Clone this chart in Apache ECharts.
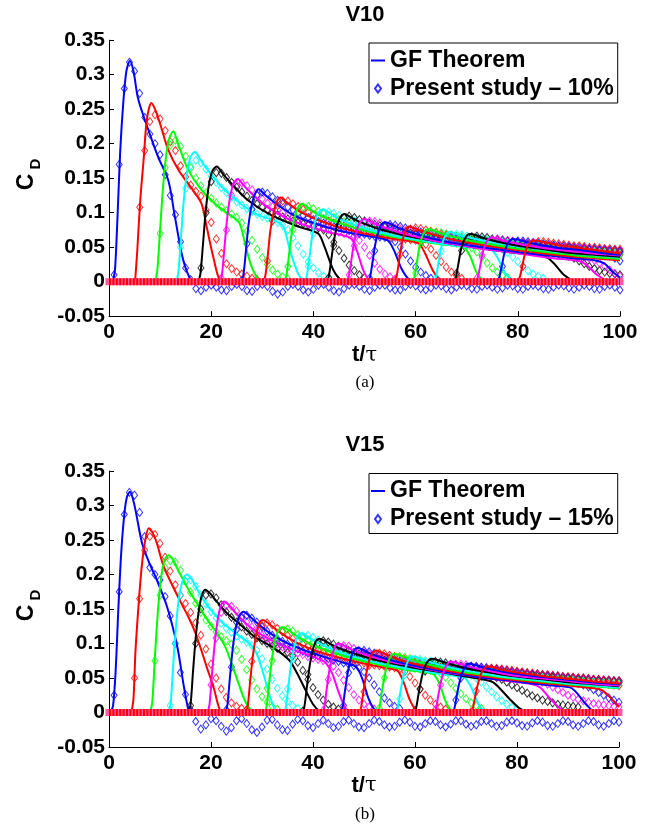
<!DOCTYPE html>
<html><head><meta charset="utf-8">
<script src="https://cdn.jsdelivr.net/npm/echarts@6.0.0/dist/echarts.min.js"></script>
<style>html,body{margin:0;padding:0;background:#fff}#chart{width:667px;height:836px}</style>
</head><body><div id="chart"></div>
<script>
// ---------------- data ----------------
const colorCycle = ['#0000ff', '#ff0000', '#00ff00', '#00ffff', '#000000', '#ff00ff'];
const xTicks = [0, 20, 40, 60, 80, 100];
const yTicks = [-0.05, 0, 0.05, 0.1, 0.15, 0.2, 0.25, 0.3, 0.35];
const titles = ['V10', 'V15'];
const legendNames = ['GF Theorem', 'Present study \u2013 10%', 'Present study \u2013 15%'];
const captions = ['(a)', '(b)'];

// GF Theorem curves, V10: [t/tau, C_D] key points per pulse
const gfV10 = [
 [[0.8,0],[1.2,0.02],[1.7,0.1],[2.2,0.19],[2.8,0.26],[3.4,0.305],[4.1,0.32],[4.8,0.305],[5.7,0.265],[7.7,0.22],[9.6,0.181],[11.6,0.147],[12.9,0.094],[14.5,0.032],[16.2,0],[17.5,-0.003],[21,-0.003],[22.5,0]],
 [[5.1,0],[5.5,0.041],[6.1,0.116],[6.8,0.179],[7.4,0.234],[8.3,0.259],[9,0.25],[10,0.229],[11.6,0.191],[13.6,0.162],[16.2,0.135],[18.1,0.113],[19.1,0.08],[20.4,0.036],[21.7,0.002],[23,0]],
 [[9.1,0],[9.5,0.02],[10,0.075],[10.5,0.13],[11.1,0.178],[11.8,0.208],[12.6,0.218],[13.5,0.2],[15.5,0.162],[18.1,0.133],[21.4,0.109],[24.6,0.092],[25.6,0.084],[26.6,0.056],[27.9,0.022],[29.5,0.002],[31,0]],
 [[13.2,0],[13.6,0.015],[14.1,0.065],[14.6,0.115],[15.2,0.155],[15.9,0.18],[16.8,0.188],[17.8,0.178],[18.8,0.167],[22,0.138],[25.3,0.116],[28.5,0.099],[32.5,0.088],[34.1,0.08],[35.4,0.046],[37,0.012],[38.3,0.001],[40,0]],
 [[17.5,0],[17.9,0.012],[18.4,0.055],[18.9,0.1],[19.5,0.138],[20.2,0.16],[21.1,0.167],[22.2,0.157],[24,0.142],[27.2,0.118],[31.8,0.096],[37,0.08],[40.9,0.07],[42.2,0.05],[43.9,0.017],[45.5,0.002],[47,0]],
 [[21.7,0],[22.1,0.01],[22.6,0.05],[23.1,0.09],[23.7,0.123],[24.4,0.143],[25.2,0.149],[26.3,0.14],[28,0.127],[31,0.108],[35,0.091],[40,0.078],[44,0.07],[47.3,0.063],[48.5,0.045],[49.8,0.016],[51,0.002],[52.5,0]],
 [[25.9,0],[26.3,0.01],[26.8,0.045],[27.3,0.082],[27.9,0.11],[28.6,0.128],[29.3,0.134],[30.5,0.126],[32.5,0.114],[36,0.097],[40,0.085],[45,0.074],[50,0.067],[54.5,0.06],[55.8,0.045],[57.3,0.018],[58.9,0.002],[60.5,0]],
 [[30.2,0],[30.6,0.009],[31.1,0.04],[31.6,0.075],[32.2,0.1],[32.9,0.117],[33.6,0.122],[34.8,0.115],[37,0.103],[40,0.092],[45,0.079],[50,0.07],[55,0.063],[60.5,0.056],[61.8,0.042],[63.4,0.016],[65,0.002],[66.5,0]],
 [[34.3,0],[34.7,0.008],[35.2,0.037],[35.7,0.068],[36.3,0.093],[37,0.108],[37.8,0.113],[39,0.107],[41,0.097],[45,0.085],[50,0.074],[55,0.066],[60,0.06],[65,0.054],[69.3,0.05],[70.6,0.038],[71.9,0.014],[73.2,0.002],[74.5,0]],
 [[38.3,0],[38.7,0.008],[39.2,0.034],[39.7,0.063],[40.3,0.087],[41,0.1],[41.9,0.105],[43,0.1],[45,0.091],[50,0.077],[55,0.068],[60,0.061],[65,0.055],[70,0.05],[74.8,0.046],[76.1,0.034],[77.6,0.012],[79,0.002],[80.5,0]],
 [[42.6,0],[43,0.007],[43.5,0.032],[44,0.058],[44.6,0.081],[45.3,0.094],[46.1,0.098],[47.2,0.094],[49,0.087],[53,0.076],[58,0.067],[63,0.06],[68,0.054],[73,0.048],[78,0.043],[83,0.039],[85.5,0.036],[87,0.027],[89,0.01],[90.7,0.002],[92,0]],
 [[46.5,0],[46.9,0.007],[47.4,0.03],[47.9,0.054],[48.5,0.075],[49.2,0.087],[50,0.091],[51.2,0.087],[53,0.081],[57,0.071],[62,0.062],[67,0.055],[72,0.049],[77,0.044],[82,0.039],[87,0.034],[92,0.03],[93.5,0.024],[95.5,0.01],[97.3,0.002],[99,0]],
 [[50.7,0],[51.1,0.007],[51.6,0.03],[52.1,0.054],[52.7,0.072],[53.3,0.083],[54.1,0.086],[55.3,0.083],[57,0.077],[61,0.067],[66,0.058],[71,0.052],[76,0.047],[81,0.042],[86,0.038],[91,0.034],[95,0.031],[97,0.026],[98.6,0.014],[100,0.006]],
 [[55.9,0],[56.3,0.008],[56.8,0.032],[57.3,0.055],[57.9,0.072],[58.6,0.08],[59.6,0.078],[61,0.074],[65,0.065],[70,0.057],[75,0.051],[80,0.046],[85,0.041],[90,0.037],[95,0.034],[100,0.031]],
 [[59.4,0],[59.8,0.008],[60.3,0.03],[60.8,0.052],[61.5,0.069],[62.5,0.076],[63.5,0.074],[65,0.07],[69,0.062],[74,0.055],[79,0.049],[84,0.044],[89,0.04],[94,0.036],[100,0.033]],
 [[63.6,0],[64,0.007],[64.5,0.028],[65,0.049],[65.7,0.065],[66.6,0.072],[67.6,0.07],[69,0.067],[73,0.06],[78,0.053],[83,0.048],[88,0.043],[94,0.039],[100,0.035]],
 [[67.5,0],[67.9,0.007],[68.4,0.027],[68.9,0.047],[69.6,0.062],[70.6,0.069],[71.6,0.068],[73,0.064],[76,0.058],[80,0.052],[85,0.047],[90,0.042],[95,0.039],[100,0.036]],
 [[71.8,0],[72.2,0.007],[72.7,0.025],[73.2,0.044],[73.9,0.058],[74.8,0.064],[75.8,0.063],[77,0.06],[80,0.055],[84,0.05],[88,0.046],[92,0.043],[96,0.04],[100,0.038]],
 [[76,0],[76.4,0.007],[76.9,0.024],[77.4,0.042],[78.1,0.056],[79,0.062],[80,0.061],[81.5,0.058],[84,0.054],[88,0.049],[92,0.046],[96,0.042],[100,0.039]],
 [[80,0],[80.4,0.007],[80.9,0.023],[81.4,0.041],[82.1,0.054],[83,0.06],[84,0.059],[85.5,0.057],[88,0.053],[91,0.05],[94,0.047],[97,0.044],[100,0.041]]
];

// Present study, V10: first sampled t/tau of each pulse (samples every 1 t/tau) and C_D values
const studyStartV10 = [1, 6, 10, 14, 18, 22, 26, 31, 35, 39, 43, 47, 51, 56, 60, 64, 68, 72, 77, 81];
const studyV10 = [
 [0.01,0.17,0.28,0.318,0.305,0.273,0.238,0.214,0.2,0.184,
  0.155,0.125,0.097,0.058,0.02,0.003,-0.01,-0.013,-0.008,-0.005,
  -0.008,-0.012,-0.013,-0.007,-0.004,-0.007,-0.013,-0.014,-0.007,-0.004,
  -0.007,-0.014,-0.018,-0.015,-0.007,-0.004,-0.007,-0.012,-0.015,-0.011,
  -0.005,-0.004,-0.008,-0.013,-0.015,-0.01,-0.005,-0.004,-0.007,-0.011,
  -0.013,-0.008,-0.005,-0.005,-0.009,-0.012,-0.012,-0.007,-0.004,-0.006,
  -0.01,-0.012,-0.009,-0.005,-0.006,-0.01,-0.012,-0.008,-0.005,-0.006,
  -0.01,-0.011,-0.007,-0.005,-0.008,-0.011,-0.009,-0.005,-0.006,-0.01,
  -0.011,-0.007,-0.005,-0.007,-0.01,-0.011,-0.008,-0.005,-0.006,-0.009,
  -0.011,-0.008,-0.005,-0.007,-0.01,-0.011,-0.007,-0.005,-0.008,-0.012],
 [0.108,0.19,0.232,0.242,0.236,0.219,0.203,0.19,0.168,0.152,0.14,0.131,0.124,0.104,0.086,0.062,0.041,0.026,0.019,0.014,0.011,0.008,0.005,0.003],
 [0.07,0.165,0.198,0.205,0.196,0.182,0.165,0.15,0.139,0.129,0.121,0.114,0.108,0.103,0.098,0.093,0.085,0.073,0.06,0.047,0.035,0.025,0.017,0.011,0.007,0.004],
 [0.05,0.135,0.168,0.176,0.172,0.163,0.153,0.144,0.136,0.129,0.122,0.116,0.111,0.106,0.102,0.098,0.095,0.092,0.089,0.086,0.082,0.075,0.064,0.052,0.04,0.029,0.02,0.013,0.008,0.005],
 [0.02,0.1,0.145,0.158,0.157,0.151,0.144,0.137,0.13,0.124,0.118,0.113,0.108,0.104,0.1,0.097,0.094,0.091,0.088,0.086,0.084,0.082,0.08,0.078,0.075,0.068,0.057,0.045,0.034,0.024,0.016,0.01,0.006],
 [0.005,0.075,0.125,0.14,0.143,0.139,0.133,0.126,0.12,0.114,0.109,0.104,0.1,0.096,0.093,0.09,0.087,0.084,0.082,0.08,0.078,0.076,0.074,0.072,0.07,0.068,0.066,0.06,0.05,0.038,0.027,0.018,0.011,0.007,0.004],
 [0.002,0.055,0.105,0.125,0.13,0.128,0.123,0.118,0.113,0.108,0.104,0.1,0.096,0.093,0.09,0.087,0.085,0.082,0.08,0.078,0.076,0.074,0.072,0.07,0.069,0.067,0.066,0.065,0.064,0.062,0.058,0.05,0.04,0.03,0.021,0.014,0.009,0.005],
 [0.03,0.088,0.11,0.117,0.117,0.113,0.109,0.105,0.101,0.097,0.094,0.091,0.088,0.085,0.083,0.081,0.079,0.077,0.075,0.073,0.071,0.07,0.068,0.067,0.065,0.064,0.063,0.062,0.061,0.06,0.058,0.054,0.047,0.038,0.029,0.021,0.014,0.009,0.005],
 [0.022,0.075,0.1,0.108,0.109,0.106,0.102,0.099,0.096,0.093,0.09,0.087,0.085,0.083,0.081,0.079,0.077,0.075,0.073,0.072,0.07,0.069,0.068,0.066,0.065,0.064,0.063,0.062,0.061,0.06,0.059,0.058,0.057,0.056,0.055,0.053,0.049,0.043,0.035,0.027,0.02,0.014,0.009,0.006],
 [0.022,0.07,0.093,0.1,0.101,0.099,0.096,0.093,0.09,0.088,0.085,0.083,0.081,0.079,0.077,0.075,0.074,0.072,0.071,0.07,0.068,0.067,0.066,0.065,0.064,0.063,0.062,0.061,0.06,0.059,0.058,0.057,0.056,0.055,0.054,0.053,0.052,0.05,0.047,0.042,0.036,0.029,0.022,0.016,0.011,0.008,0.005],
 [0.006,0.052,0.083,0.093,0.095,0.093,0.09,0.088,0.085,0.083,0.081,0.079,0.077,0.075,0.073,0.072,0.07,0.069,0.067,0.066,0.065,0.064,0.063,0.062,0.061,0.06,0.059,0.058,0.057,0.056,0.055,0.054,0.053,0.052,0.051,0.05,0.049,0.048,0.047,0.046,0.045,0.044,0.043,0.042,0.041,0.04,0.039,0.037,0.034,0.03,0.026,0.022,0.019,0.016,0.014,0.012,0.011,0.01],
 [0.01,0.052,0.078,0.086,0.088,0.087,0.085,0.082,0.08,0.078,0.076,0.074,0.072,0.071,0.069,0.068,0.066,0.065,0.064,0.063,0.062,0.061,0.06,0.059,0.058,0.057,0.056,0.055,0.054,0.053,0.052,0.051,0.05,0.049,0.048,0.047,0.046,0.045,0.044,0.043,0.042,0.041,0.04,0.039,0.038,0.037,0.036,0.034,0.031,0.027,0.022,0.017,0.012,0.008],
 [0.005,0.045,0.072,0.081,0.083,0.082,0.08,0.078,0.076,0.074,0.072,0.07,0.069,0.067,0.066,0.065,0.064,0.063,0.062,0.061,0.06,0.059,0.058,0.057,0.056,0.055,0.054,0.053,0.052,0.051,0.05,0.049,0.048,0.047,0.047,0.046,0.045,0.044,0.044,0.043,0.042,0.041,0.041,0.04,0.039,0.039,0.038,0.037,0.034,0.03],
 [0.002,0.04,0.067,0.076,0.078,0.077,0.075,0.073,0.071,0.069,0.068,0.066,0.065,0.064,0.062,0.061,0.06,0.059,0.058,0.057,0.056,0.055,0.054,0.053,0.052,0.051,0.05,0.05,0.049,0.048,0.047,0.047,0.046,0.045,0.045,0.044,0.043,0.043,0.042,0.042,0.041,0.041,0.04,0.04,0.039],
 [0.013,0.055,0.068,0.072,0.072,0.071,0.069,0.068,0.066,0.065,0.063,0.062,0.061,0.06,0.059,0.058,0.057,0.056,0.055,0.054,0.053,0.052,0.051,0.05,0.05,0.049,0.048,0.048,0.047,0.046,0.046,0.045,0.044,0.044,0.043,0.043,0.042,0.042,0.041,0.041,0.04],
 [0.006,0.044,0.063,0.068,0.069,0.068,0.066,0.065,0.063,0.062,0.061,0.06,0.059,0.058,0.057,0.056,0.055,0.054,0.053,0.052,0.051,0.05,0.05,0.049,0.048,0.048,0.047,0.046,0.046,0.045,0.045,0.044,0.044,0.043,0.043,0.042,0.042],
 [0.012,0.045,0.06,0.065,0.066,0.065,0.064,0.062,0.061,0.06,0.059,0.058,0.057,0.056,0.055,0.054,0.053,0.052,0.051,0.051,0.05,0.049,0.049,0.048,0.047,0.047,0.046,0.046,0.045,0.045,0.044,0.044,0.043],
 [0.005,0.038,0.055,0.06,0.062,0.061,0.06,0.059,0.058,0.057,0.056,0.055,0.054,0.053,0.052,0.052,0.051,0.05,0.05,0.049,0.048,0.048,0.047,0.047,0.046,0.046,0.045,0.045,0.044],
 [0.022,0.048,0.057,0.059,0.059,0.058,0.057,0.056,0.055,0.054,0.053,0.052,0.052,0.051,0.05,0.05,0.049,0.048,0.048,0.047,0.047,0.046,0.046,0.045],
 [0.022,0.047,0.055,0.058,0.058,0.057,0.056,0.055,0.054,0.053,0.052,0.052,0.051,0.05,0.05,0.049,0.048,0.048,0.047,0.047]
];

// GF Theorem curves, V15
const gfV15 = [
 [[0.3,0],[0.8,0.01],[1.3,0.06],[1.85,0.153],[2.4,0.232],[3,0.287],[3.5,0.312],[4.1,0.32],[5,0.3],[6.5,0.245],[8,0.215],[9.1,0.197],[11.4,0.153],[13.4,0.095],[14.7,0.037],[15.7,0.001],[16.5,-0.003],[20,-0.003],[21.5,0]],
 [[4.4,0],[4.8,0.02],[5.2,0.09],[5.85,0.161],[6.4,0.21],[7,0.245],[7.8,0.267],[8.6,0.26],[9.4,0.245],[10.7,0.212],[12.7,0.18],[14.4,0.155],[15.6,0.138],[16.8,0.118],[17.9,0.095],[19.2,0.065],[20.5,0.037],[21.8,0.003],[23,0]],
 [[8.1,0],[8.5,0.016],[9,0.08],[9.6,0.148],[10.2,0.194],[10.9,0.221],[11.7,0.228],[12.5,0.222],[13.3,0.21],[15.3,0.182],[17.5,0.155],[19.5,0.132],[21.5,0.112],[22.8,0.095],[24,0.072],[25.5,0.04],[27,0.012],[28.4,0.001],[29.5,0]],
 [[11.7,0],[12.1,0.014],[12.6,0.07],[13.2,0.13],[13.8,0.17],[14.5,0.192],[15.3,0.2],[16.3,0.192],[17.5,0.176],[19.5,0.153],[22,0.132],[25,0.114],[27.5,0.1],[28.8,0.088],[30.2,0.058],[31.6,0.022],[32.8,0.002],[34,0]],
 [[15.6,0],[16,0.012],[16.5,0.062],[17.1,0.116],[17.7,0.152],[18.3,0.172],[18.9,0.178],[19.9,0.172],[21,0.162],[23,0.145],[25.5,0.129],[28.5,0.11],[32,0.095],[35.3,0.076],[36.8,0.058],[38.5,0.033],[40,0.012],[41.3,0.002],[42.5,0]],
 [[19.3,0],[19.7,0.011],[20.2,0.056],[20.8,0.105],[21.4,0.138],[22,0.156],[22.6,0.161],[23.6,0.155],[25,0.143],[27,0.128],[30,0.112],[34,0.097],[38,0.086],[41,0.078],[42.5,0.072],[43.8,0.056],[45,0.03],[46.4,0.006],[47.5,0]],
 [[22.8,0],[23.2,0.01],[23.7,0.05],[24.3,0.095],[24.9,0.124],[25.6,0.141],[26.4,0.146],[27.5,0.14],[29,0.13],[31,0.118],[34,0.104],[38,0.091],[42,0.081],[46,0.072],[48.5,0.066],[49.7,0.048],[50.9,0.02],[52.2,0.003],[53.5,0]],
 [[26.8,0],[27.2,0.009],[27.7,0.047],[28.3,0.087],[28.9,0.114],[29.5,0.13],[30.2,0.134],[31.3,0.129],[33,0.119],[35,0.109],[38,0.097],[42,0.086],[46,0.078],[50,0.071],[54,0.065],[56.5,0.061],[57.7,0.045],[59,0.018],[60.4,0.002],[62,0]],
 [[30.5,0],[30.9,0.009],[31.4,0.043],[32,0.08],[32.6,0.105],[33.3,0.12],[34,0.124],[35.1,0.12],[37,0.11],[40,0.098],[44,0.087],[48,0.078],[52,0.071],[56,0.065],[60,0.06],[63.5,0.056],[64.8,0.042],[66,0.016],[67.2,0.002],[68.5,0]],
 [[34.3,0],[34.7,0.008],[35.2,0.04],[35.8,0.075],[36.4,0.098],[37,0.111],[37.7,0.115],[38.8,0.111],[40.5,0.103],[44,0.091],[48,0.081],[52,0.073],[56,0.067],[60,0.062],[64,0.057],[68,0.053],[69.8,0.05],[71,0.037],[72.3,0.014],[73.5,0.002],[75,0]],
 [[37.9,0],[38.3,0.008],[38.8,0.037],[39.4,0.07],[40,0.092],[40.6,0.104],[41.2,0.107],[42.3,0.104],[44,0.097],[47,0.088],[51,0.079],[55,0.072],[59,0.066],[63,0.061],[67,0.056],[71,0.051],[75,0.045],[76.5,0.036],[78.5,0.02],[80.5,0.006],[82,0.001],[83,0]],
 [[41.8,0],[42.2,0.007],[42.7,0.035],[43.3,0.065],[43.9,0.086],[44.4,0.097],[44.9,0.1],[46,0.097],[48,0.09],[51,0.082],[55,0.074],[59,0.068],[63,0.062],[67,0.057],[71,0.053],[75,0.049],[79,0.045],[83,0.041],[84.6,0.036],[86.5,0.02],[88.3,0.007],[89.8,0.001],[91,0]],
 [[45.4,0],[45.8,0.007],[46.3,0.033],[46.9,0.061],[47.5,0.081],[48.1,0.091],[48.7,0.094],[49.8,0.091],[51.5,0.085],[55,0.076],[59,0.069],[63,0.063],[67,0.058],[71,0.053],[75,0.049],[79,0.046],[83,0.042],[87,0.039],[90.5,0.036],[92,0.026],[93.5,0.012],[95,0.002],[96.5,0]],
 [[49,0],[49.4,0.006],[49.9,0.031],[50.5,0.058],[51.1,0.077],[51.7,0.087],[52.3,0.09],[53.4,0.087],[55,0.082],[58,0.074],[62,0.067],[66,0.061],[70,0.056],[74,0.052],[78,0.048],[82,0.045],[86,0.042],[90,0.039],[94,0.036],[96.5,0.033],[98,0.024],[100,0.008]],
 [[52.6,0],[53,0.006],[53.5,0.03],[54.1,0.055],[54.7,0.072],[55.3,0.082],[55.9,0.085],[57,0.083],[58.5,0.079],[62,0.071],[66,0.064],[70,0.058],[74,0.054],[78,0.05],[82,0.047],[86,0.044],[90,0.041],[95,0.038],[100,0.035]],
 [[56.2,0],[56.6,0.006],[57.1,0.028],[57.7,0.052],[58.3,0.069],[58.9,0.078],[59.5,0.081],[60.6,0.079],[62,0.075],[65,0.069],[69,0.062],[73,0.057],[77,0.052],[81,0.049],[85,0.046],[90,0.042],[95,0.039],[100,0.036]],
 [[59.8,0],[60.2,0.006],[60.7,0.027],[61.3,0.05],[61.9,0.066],[62.6,0.075],[63.3,0.078],[64.4,0.076],[66,0.072],[69,0.066],[73,0.06],[77,0.055],[81,0.051],[85,0.048],[90,0.044],[95,0.041],[100,0.038]],
 [[63.7,0],[64.1,0.005],[64.6,0.026],[65.2,0.048],[65.8,0.063],[66.4,0.071],[67,0.074],[68.1,0.072],[69.5,0.069],[72,0.064],[76,0.058],[80,0.053],[84,0.05],[88,0.047],[92,0.044],[96,0.041],[100,0.039]],
 [[67.3,0],[67.7,0.005],[68.2,0.025],[68.8,0.046],[69.4,0.06],[70,0.068],[70.6,0.071],[71.7,0.069],[73,0.066],[76,0.061],[80,0.056],[84,0.052],[88,0.049],[92,0.046],[96,0.043],[100,0.041]],
 [[70.9,0],[71.3,0.005],[71.8,0.023],[72.4,0.043],[73,0.057],[73.6,0.064],[74.2,0.067],[75.3,0.066],[76.5,0.063],[79,0.059],[83,0.055],[87,0.051],[91,0.048],[95,0.045],[100,0.042]]
];

// Present study, V15
const studyStartV15 = [1, 5, 9, 12, 16, 20, 23, 27, 31, 35, 38, 42, 46, 50, 53, 57, 60, 64, 68, 71];
const studyV15 = [
 [0.025,0.175,0.287,0.319,0.315,0.29,0.255,0.21,0.2,0.192,
  0.168,0.14,0.1,0.058,0.026,0.004,-0.013,-0.024,-0.018,-0.009,
  -0.012,-0.02,-0.027,-0.022,-0.012,-0.009,-0.016,-0.025,-0.029,-0.021,
  -0.011,-0.01,-0.018,-0.025,-0.026,-0.017,-0.01,-0.012,-0.019,-0.022,
  -0.016,-0.011,-0.016,-0.022,-0.02,-0.013,-0.011,-0.016,-0.021,-0.022,
  -0.016,-0.011,-0.013,-0.018,-0.021,-0.02,-0.014,-0.011,-0.014,-0.02,
  -0.021,-0.016,-0.012,-0.013,-0.018,-0.021,-0.017,-0.012,-0.012,-0.017,
  -0.02,-0.018,-0.013,-0.012,-0.016,-0.02,-0.019,-0.014,-0.012,-0.015,
  -0.019,-0.02,-0.015,-0.012,-0.014,-0.019,-0.02,-0.016,-0.012,-0.013,
  -0.018,-0.02,-0.016,-0.012,-0.013,-0.018,-0.02,-0.016,-0.012,-0.014],
 [0.05,0.165,0.235,0.255,0.258,0.245,0.225,0.205,0.185,0.17,0.158,0.145,0.13,0.112,0.092,0.07,0.05,0.034,0.022,0.014,0.009,0.006,0.004],
 [0.075,0.17,0.21,0.22,0.218,0.206,0.19,0.174,0.158,0.145,0.134,0.125,0.117,0.11,0.104,0.099,0.09,0.077,0.062,0.047,0.034,0.023,0.015,0.009,0.005],
 [0.01,0.1,0.17,0.19,0.192,0.183,0.17,0.157,0.146,0.137,0.129,0.122,0.116,0.111,0.106,0.102,0.097,0.09,0.078,0.063,0.048,0.035,0.024,0.016,0.01,0.006],
 [0.01,0.1,0.15,0.17,0.172,0.166,0.156,0.146,0.138,0.131,0.124,0.118,0.113,0.108,0.104,0.1,0.096,0.093,0.09,0.087,0.082,0.073,0.061,0.048,0.036,0.026,0.018,0.012,0.008,0.005],
 [0.04,0.108,0.145,0.155,0.154,0.147,0.139,0.131,0.124,0.118,0.112,0.107,0.103,0.099,0.095,0.092,0.089,0.086,0.084,0.081,0.079,0.077,0.075,0.072,0.067,0.058,0.047,0.036,0.026,0.018,0.012,0.008,0.005],
 [0.004,0.066,0.12,0.137,0.141,0.137,0.131,0.124,0.118,0.112,0.107,0.103,0.099,0.095,0.092,0.089,0.086,0.084,0.082,0.08,0.078,0.076,0.074,0.072,0.07,0.068,0.065,0.059,0.05,0.04,0.03,0.021,0.014,0.009,0.006],
 [0.004,0.074,0.11,0.126,0.13,0.127,0.122,0.117,0.112,0.107,0.103,0.099,0.096,0.093,0.09,0.087,0.085,0.083,0.081,0.079,0.077,0.075,0.074,0.072,0.071,0.069,0.068,0.067,0.066,0.065,0.063,0.059,0.052,0.043,0.034,0.025,0.018,0.012,0.008,0.005],
 [0.035,0.075,0.106,0.118,0.121,0.118,0.113,0.108,0.104,0.1,0.097,0.094,0.091,0.088,0.086,0.084,0.082,0.08,0.078,0.076,0.075,0.073,0.072,0.071,0.069,0.068,0.067,0.066,0.065,0.064,0.063,0.062,0.061,0.06,0.057,0.051,0.043,0.035,0.027,0.02,0.014,0.01,0.006],
 [0.034,0.077,0.103,0.111,0.112,0.109,0.105,0.101,0.097,0.094,0.091,0.088,0.086,0.084,0.082,0.08,0.078,0.076,0.075,0.073,0.072,0.071,0.069,0.068,0.067,0.066,0.065,0.064,0.063,0.062,0.061,0.06,0.059,0.058,0.057,0.056,0.054,0.05,0.044,0.037,0.03,0.023,0.017,0.012,0.008,0.005],
 [0.002,0.055,0.085,0.1,0.104,0.102,0.099,0.096,0.093,0.09,0.087,0.085,0.083,0.081,0.079,0.077,0.076,0.074,0.073,0.071,0.07,0.069,0.068,0.067,0.066,0.065,0.064,0.063,0.062,0.061,0.06,0.059,0.058,0.057,0.056,0.055,0.054,0.053,0.051,0.048,0.044,0.04,0.036,0.032,0.028,0.024,0.021,0.018,0.016,0.014,0.012,0.011,0.01,0.009,0.008],
 [0.003,0.048,0.078,0.093,0.097,0.096,0.093,0.09,0.087,0.085,0.083,0.08,0.078,0.077,0.075,0.073,0.072,0.07,0.069,0.068,0.067,0.066,0.065,0.064,0.063,0.062,0.061,0.06,0.059,0.058,0.057,0.056,0.055,0.054,0.053,0.052,0.051,0.05,0.05,0.049,0.048,0.047,0.046,0.044,0.041,0.037,0.033,0.029,0.025,0.022,0.019,0.017,0.015,0.013,0.012,0.011,0.01,0.009,0.008],
 [0.01,0.058,0.082,0.089,0.09,0.088,0.086,0.083,0.081,0.079,0.077,0.075,0.074,0.072,0.071,0.07,0.068,0.067,0.066,0.065,0.064,0.063,0.062,0.061,0.06,0.059,0.058,0.057,0.056,0.055,0.054,0.053,0.052,0.052,0.051,0.05,0.049,0.049,0.048,0.047,0.047,0.046,0.045,0.045,0.044,0.043,0.042,0.04,0.037,0.033,0.029,0.025,0.021,0.018,0.015],
 [0.03,0.068,0.082,0.086,0.085,0.083,0.081,0.079,0.077,0.075,0.073,0.072,0.07,0.069,0.068,0.066,0.065,0.064,0.063,0.062,0.061,0.06,0.059,0.058,0.057,0.056,0.055,0.055,0.054,0.053,0.052,0.052,0.051,0.05,0.05,0.049,0.048,0.048,0.047,0.047,0.046,0.045,0.045,0.044,0.044,0.043,0.043,0.042,0.041,0.04,0.039],
 [0.006,0.05,0.071,0.079,0.081,0.08,0.078,0.076,0.074,0.072,0.071,0.069,0.068,0.067,0.065,0.064,0.063,0.062,0.061,0.06,0.059,0.058,0.057,0.056,0.056,0.055,0.054,0.053,0.053,0.052,0.051,0.051,0.05,0.049,0.049,0.048,0.048,0.047,0.047,0.046,0.046,0.045,0.045,0.044,0.044,0.043,0.043,0.042],
 [0.02,0.054,0.072,0.077,0.077,0.075,0.074,0.072,0.07,0.069,0.067,0.066,0.065,0.064,0.063,0.062,0.061,0.06,0.059,0.058,0.057,0.056,0.056,0.055,0.054,0.053,0.053,0.052,0.051,0.051,0.05,0.05,0.049,0.049,0.048,0.047,0.047,0.046,0.046,0.045,0.045,0.044,0.044,0.043],
 [0.003,0.034,0.06,0.071,0.074,0.073,0.072,0.07,0.069,0.067,0.066,0.065,0.064,0.063,0.062,0.061,0.06,0.059,0.058,0.057,0.056,0.056,0.055,0.054,0.053,0.053,0.052,0.051,0.051,0.05,0.05,0.049,0.048,0.048,0.047,0.047,0.046,0.046,0.045,0.045,0.044],
 [0.004,0.04,0.06,0.068,0.07,0.07,0.069,0.067,0.066,0.065,0.064,0.063,0.062,0.061,0.06,0.059,0.058,0.057,0.056,0.056,0.055,0.054,0.053,0.053,0.052,0.051,0.051,0.05,0.05,0.049,0.048,0.048,0.047,0.047,0.046,0.046,0.045],
 [0.018,0.05,0.063,0.067,0.067,0.066,0.065,0.064,0.063,0.062,0.061,0.06,0.059,0.058,0.057,0.056,0.056,0.055,0.054,0.053,0.053,0.052,0.051,0.051,0.05,0.05,0.049,0.048,0.048,0.047,0.047,0.046,0.046],
 [0.001,0.031,0.052,0.061,0.064,0.064,0.063,0.062,0.061,0.06,0.059,0.058,0.057,0.056,0.055,0.055,0.054,0.053,0.052,0.052,0.051,0.05,0.05,0.049,0.048,0.048,0.047,0.047,0.046,0.046]
];

// zero band of the sampled data (start and end of the record, C_D = 0)
const zeroBand = [[0, 0], [100, 0]];

// ---------------- chart ----------------
const FONT = 'Liberation Sans';
const DIAMOND = 'path://M3,0L6,4L3,8L0,4Z';
const LINE_ICON = 'path://M0,0L14,0L14,2L0,2Z';

function plotSeries(gi, gf, starts, study, gfName, studyName) {
  const list = [];
  for (let k = 0; k < gf.length; k++) {
    const c = colorCycle[k % colorCycle.length];
    list.push({
      type: 'line', name: k === 0 ? gfName : 'GF ' + gi + '-' + k,
      xAxisIndex: gi, yAxisIndex: gi, data: gf[k],
      smooth: 0.3, symbol: 'none', showSymbol: false,
      lineStyle: { color: c, width: 2 }, itemStyle: { color: c },
      silent: true
    });
    list.push({
      type: 'scatter', name: k === 0 ? studyName : 'PS ' + gi + '-' + k,
      xAxisIndex: gi, yAxisIndex: gi,
      data: study[k].map((v, i) => [starts[k] + i, v]),
      symbol: DIAMOND, symbolSize: [6, 8],
      itemStyle: { color: 'rgba(0,0,0,0)', borderColor: c, borderWidth: 1 },
      silent: true
    });
  }
  list.push({
    type: 'line', name: 'zero band a' + gi, xAxisIndex: gi, yAxisIndex: gi, data: zeroBand,
    symbol: 'none', clip: false, silent: true,
    lineStyle: { color: '#ff5aa0', width: 7, cap: 'square' }
  });
  list.push({
    type: 'line', name: 'zero band b' + gi, xAxisIndex: gi, yAxisIndex: gi, data: zeroBand,
    symbol: 'none', clip: false, silent: true,
    lineStyle: { color: '#ff0000', width: 7, type: [2, 1.4], cap: 'butt' }
  });
  return list;
}

function xAxisFor(gi) {
  return {
    gridIndex: gi, type: 'value', min: xTicks[0], max: xTicks[xTicks.length - 1], interval: 20,
    axisLine: { onZero: false, lineStyle: { color: '#000', width: 1 } },
    axisTick: { show: true, inside: true, length: 5, lineStyle: { color: '#000' } },
    splitLine: { show: false },
    axisLabel: { color: '#000', fontFamily: FONT, fontWeight: 'bold', fontSize: 21, margin: 6 },
    name: '{b|t/}{g|\u03c4}', nameLocation: 'middle', nameGap: 25,
    nameTextStyle: {
      rich: {
        b: { fontFamily: FONT, fontWeight: 'bold', fontSize: 22, color: '#000' },
        g: { fontFamily: 'DejaVu Serif', fontSize: 21, color: '#000' }
      }
    }
  };
}
function yAxisFor(gi) {
  return {
    gridIndex: gi, type: 'value', min: yTicks[0], max: yTicks[yTicks.length - 1], interval: 0.05,
    axisLine: { show: true, onZero: false, lineStyle: { color: '#000', width: 1 } },
    axisTick: { show: true, inside: true, length: 5, lineStyle: { color: '#000' } },
    splitLine: { show: false },
    axisLabel: {
      color: '#000', fontFamily: FONT, fontWeight: 'bold', fontSize: 21, margin: 4,
      formatter: v => String(Math.round(v * 100) / 100)
    }
  };
}
function legendFor(top, studyName) {
  return {
    orient: 'vertical', left: 369, top: top,
    itemWidth: 14, itemHeight: 8, itemGap: 5,
    padding: [6, 4, 3, 2],
    borderColor: '#000', borderWidth: 1, backgroundColor: '#fff',
    selectedMode: false,
    textStyle: { fontFamily: FONT, fontWeight: 'bold', fontSize: 23, color: '#000', lineHeight: 22 },
    data: [{ name: legendNames[0], icon: LINE_ICON }, { name: studyName, icon: DIAMOND }]
  };
}
function txt(x, y, text, size, weight, family, rot) {
  return {
    type: 'text', x: x, y: y, rotation: rot || 0, silent: true,
    style: { text: text, fontSize: size, fontWeight: weight, fontFamily: family, fill: '#000',
             align: 'center', verticalAlign: 'middle', textAlign: 'center', textVerticalAlign: 'middle' }
  };
}

const chart = echarts.init(document.getElementById('chart'), null, { renderer: 'canvas' });
chart.setOption({
  animation: false,
  backgroundColor: '#fff',
  grid: [
    { left: 109, top: 40.2, width: 511, height: 276 },
    { left: 109, top: 471, width: 510, height: 276 }
  ],
  xAxis: [xAxisFor(0), xAxisFor(1)],
  yAxis: [yAxisFor(0), yAxisFor(1)],
  legend: [legendFor(43, legendNames[1]), legendFor(473.5, legendNames[2])],
  graphic: [
    txt(365, 14.5, titles[0], 22, 'bold', FONT),
    txt(365, 444.5, titles[1], 22, 'bold', FONT),
    txt(27, 182, 'C', 23, 'bold', FONT, Math.PI / 2),
    txt(35.5, 164, 'D', 15, 'bold', FONT, Math.PI / 2),
    txt(27, 613, 'C', 23, 'bold', FONT, Math.PI / 2),
    txt(35.5, 595, 'D', 15, 'bold', FONT, Math.PI / 2),
    txt(365, 383, captions[0], 17, 'normal', 'Liberation Serif'),
    txt(365, 815, captions[1], 17, 'normal', 'Liberation Serif')
  ],
  series: [].concat(
    plotSeries(0, gfV10, studyStartV10, studyV10, legendNames[0], legendNames[1]),
    plotSeries(1, gfV15, studyStartV15, studyV15, legendNames[0], legendNames[2])
  )
});
</script></body></html>
